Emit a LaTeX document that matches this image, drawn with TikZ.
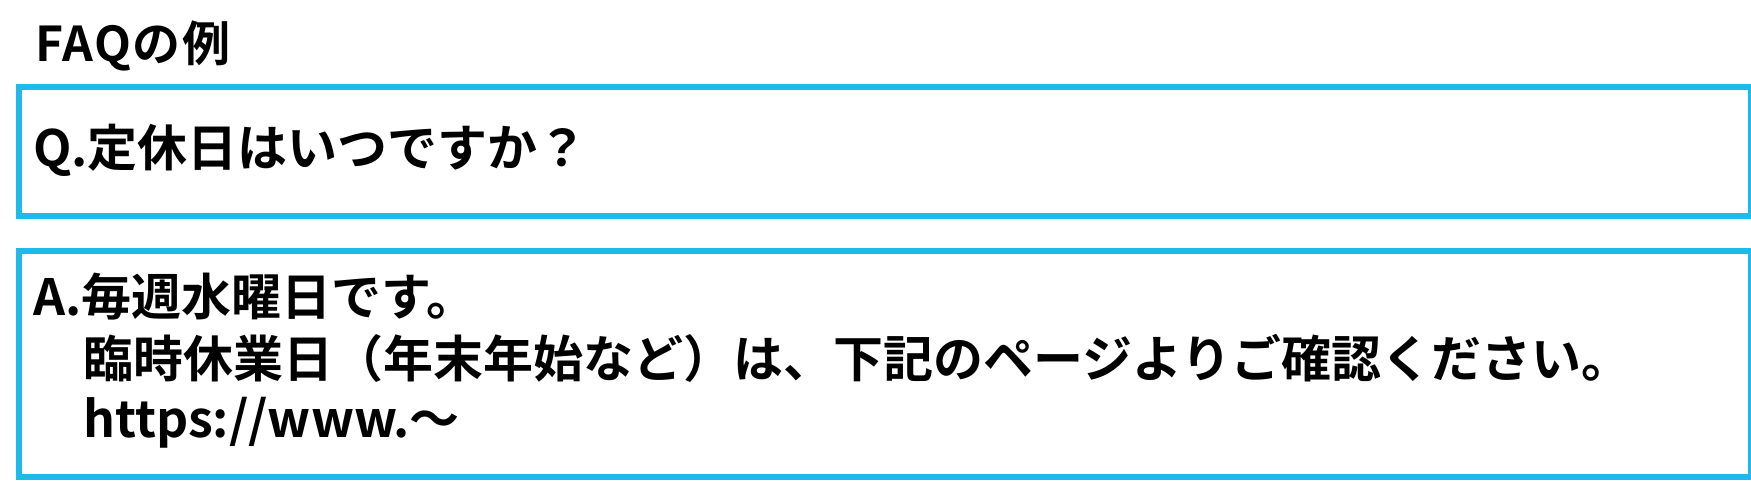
\documentclass[tikz,border=0pt]{standalone}
\usepackage{fontspec}
\setmainfont{Noto Sans CJK JP}[UprightFont={* Bold}]
\usetikzlibrary{positioning}
\definecolor{faqblue}{RGB}{30,186,236}
\tikzset{
  faqbox/.style={draw=faqblue, line width=6pt, rectangle, inner sep=0pt, minimum width=1732pt, anchor=north west},
  faqtext/.style={anchor=base west, inner sep=0pt, font=\fontsize{50}{60}\selectfont},
}

\begin{document}
\begin{tikzpicture}[x=1pt, y=-1pt]
    \useasboundingbox (0, 0) rectangle (1751, 481);
    \node [faqtext, font=\fontsize{48}{56}\selectfont\addfontfeatures{LetterSpace=3}] (title) at (35, 62) {FAQの例};
    \node [faqbox, minimum height=129pt] (qbox) at (16, 84) {};
    \node [faqbox, minimum height=226pt] (abox) at (16, 248) {};
    \node [faqtext] (question) at (33, 167) {Q.定休日はいつですか？};
    \node [faqtext] (answer1) at (33, 315) {A.毎週水曜日です。};
    \node [faqtext] (answer2) at (83, 377) {臨時休業日（年末年始など）は、下記のページよりご確認ください。};
    \node [faqtext] (answer3) at (83, 437) {https://www.～};
\end{tikzpicture}
\end{document}
